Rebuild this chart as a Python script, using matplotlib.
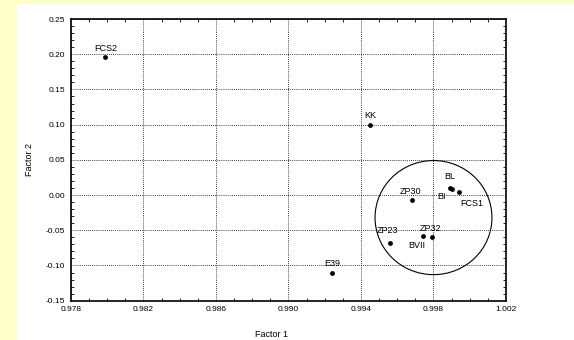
import matplotlib
matplotlib.use("Agg")
import matplotlib.pyplot as plt
from matplotlib.patches import Ellipse, Rectangle
from matplotlib.ticker import MultipleLocator, FormatStrFormatter

plt.rcParams['font.family'] = ['Liberation Sans Narrow', 'Liberation Sans', 'DejaVu Sans']

# Factor loadings of the samples
labels = ["FCS2", "KK", "E39", "ZP30", "BL", "BI", "FCS1", "ZP23", "ZP32", "BVII"]
factor1 = [0.9799, 0.9945, 0.9924, 0.9968, 0.9989, 0.9990, 0.9994, 0.9956, 0.9979, 0.9974]
factor2 = [0.196, 0.100, -0.110, -0.007, 0.010, 0.008, 0.004, -0.068, -0.060, -0.058]

# axis ticks
x_ticks = [0.978, 0.982, 0.986, 0.990, 0.994, 0.998, 1.002]
y_ticks = [-0.15, -0.10, -0.05, 0.00, 0.05, 0.10, 0.15, 0.20, 0.25]

# label placement per sample: (dx points, dy points, ha, va)
label_pos = {
    "FCS2": (0, 3, "center", "bottom"),
    "KK": (0, 3, "center", "bottom"),
    "E39": (0, 3, "center", "bottom"),
    "ZP30": (-1, 3, "center", "bottom"),
    "BL": (0, 5, "center", "bottom"),
    "BI": (-7, -2, "center", "top"),
    "FCS1": (9, -5, "center", "top"),
    "ZP23": (-2, 6, "center", "bottom"),
    "ZP32": (-1, 3, "center", "bottom"),
    "BVII": (-4, -4, "center", "top"),
}

# cluster outline
cluster_center = (0.9980, -0.032)
cluster_width = 0.00645
cluster_height = 0.162

fig = plt.figure(figsize=(5.74, 3.4), dpi=100)
fig.patch.set_facecolor("#FFFFCC")
fig.add_artist(Rectangle((17 / 574, 0), 1 - 17 / 574, 1 - 4 / 340,
                         transform=fig.transFigure, facecolor="white",
                         edgecolor="none", zorder=0))

ax = fig.add_axes([71 / 574, 1 - 300.7 / 340, 435 / 574, 281.7 / 340])
ax.set_xlim(x_ticks[0], x_ticks[-1])
ax.set_ylim(y_ticks[0], y_ticks[-1])

ax.scatter(factor1, factor2, s=12, color="black", zorder=3, linewidths=0)
for name, x, y in zip(labels, factor1, factor2):
    dx, dy, ha, va = label_pos[name]
    ax.annotate(name, (x, y), xytext=(dx, dy), textcoords="offset points",
                ha=ha, va=va, fontsize=6.5, color="black")

ax.add_patch(Ellipse(cluster_center, cluster_width, cluster_height,
                     fill=False, edgecolor="black", linewidth=0.8, zorder=2))

ax.set_xticks(x_ticks)
ax.set_yticks(y_ticks)
ax.xaxis.set_minor_locator(MultipleLocator(0.001))
ax.yaxis.set_minor_locator(MultipleLocator(0.01))
ax.xaxis.set_major_formatter(FormatStrFormatter("%.3f"))
ax.yaxis.set_major_formatter(FormatStrFormatter("%.2f"))

ax.grid(True, which="major", linestyle=(0, (1, 1.5)), color="black", linewidth=0.6)
ax.tick_params(which="both", direction="in", top=True, right=True,
               labelsize=6, pad=4)
ax.tick_params(which="major", length=0)
ax.tick_params(which="minor", length=2.5, width=0.6)
for sp in ax.spines.values():
    sp.set_linewidth(1.2)

ax.set_xlabel("Factor 1", fontsize=6.5, labelpad=9)
ax.set_ylabel("Factor 2", fontsize=6.5, labelpad=9)
ax.xaxis.set_label_coords(0.46, -0.105)

fig.savefig("out.png", dpi=100, facecolor=fig.get_facecolor())
